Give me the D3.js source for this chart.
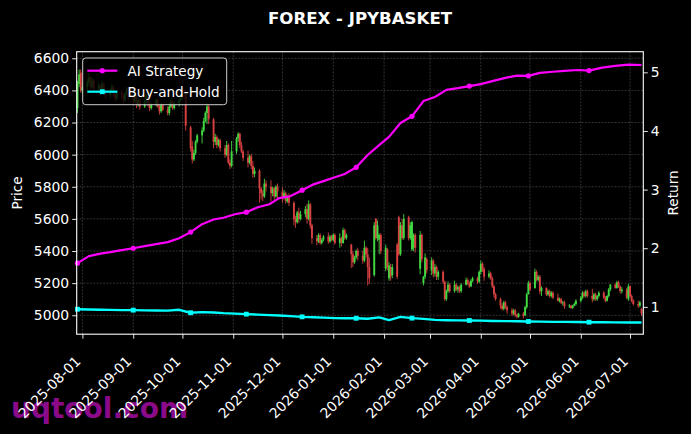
<!DOCTYPE html>
<html><head><meta charset="utf-8">
<script src="https://cdn.jsdelivr.net/npm/d3@7"></script>
<style>html,body{margin:0;padding:0;background:#000;} svg{display:block;}</style>
</head><body><svg id="c" width="691" height="434"></svg>
<script>
// ---------- DATA ----------
const chartTitle = "FOREX - JPYBASKET";
const firstTradingDay = "2025-07-29";
const lastTradingDay = "2026-07-08";
const opens = [
6290,6440,6510,6400,
6420,6450,6480,6420,6460,
6410,6430,6390,6440,6400,
6370,6400,6420,6380,6350,
6390,6370,6340,6380,6410,
6360,6330,6360,6310,6340,
6300,6330,6360,6320,6290,
6310,6340,6300,6270,6310,
6280,6260,6300,6330,6290,
6320,6340,6370,6390,6380,
6170,6050,5970,6010,6080,
6120,6150,6210,6260,6300,
6220,6080,6110,6060,6090,
6040,6000,6060,5950,5930,
6020,6100,6130,6060,6020,
5980,5950,5990,5930,5880,
5900,5790,5760,5740,5820,
5800,5760,5790,5740,5800,
5770,5730,5760,5710,5740,
5700,5600,5580,5640,5600,
5630,5660,5600,5690,5560,
5480,5460,5500,5450,5470,
5490,5460,5490,5470,5500,
5450,5480,5450,5530,5480,
5440,5380,5330,5360,5400,
5370,5340,5420,5380,5300,
5250,5600,5480,5470,5500,
5290,5410,5230,5300,5250,
5440,5610,5380,5560,5480,
5610,5480,5410,5420,5500,
5290,5500,5200,5240,5350,
5280,5340,5260,5300,5240,
5270,5210,5100,5150,5190,
5150,5190,5160,5175,5150,
5190,5220,5200,5180,5215,
5230,5210,5270,5320,5290,
5240,5260,5230,5180,5130,
5100,5060,5040,5080,5050,
5030,5010,5030,5000,4990,
5010,5000,5050,5130,5200,
5170,5270,5220,5240,5150,
5170,5130,5150,5120,5140,
5110,5090,5100,5075,5080,
5055,5060,5045,5060,5070,
5090,5110,5140,5120,5150,
5120,5100,5130,5100,5120,
5140,5110,5090,5120,5160,
5190,5170,5205,5180,5150,
5160,5100,5180,5120,5090,
5070,5060,5040];
const closes = [
6440,6500,6400,6420,
6450,6480,6420,6460,6410,
6430,6390,6440,6400,6370,
6400,6420,6380,6350,6390,
6370,6340,6380,6410,6360,
6330,6360,6310,6340,6300,
6330,6360,6320,6290,6310,
6340,6300,6270,6310,6280,
6260,6300,6330,6290,6320,
6340,6370,6390,6380,6180,
6040,5970,6010,6080,6120,
6150,6210,6260,6300,6220,
6080,6110,6060,6090,6040,
6000,6060,5950,5930,6020,
6100,6130,6060,6020,5980,
5950,5990,5930,5880,5900,
5790,5760,5740,5820,5800,
5760,5790,5740,5800,5770,
5730,5760,5710,5740,5700,
5600,5580,5640,5600,5630,
5660,5600,5690,5560,5480,
5460,5500,5450,5470,5490,
5460,5490,5470,5500,5450,
5480,5450,5530,5480,5500,
5380,5330,5360,5400,5370,
5340,5420,5380,5300,5230,
5560,5480,5560,5500,5400,
5420,5300,5310,5240,5300,
5240,5380,5560,5480,5600,
5480,5560,5580,5500,5420,
5500,5350,5240,5360,5280,
5340,5260,5300,5240,5270,
5210,5100,5150,5190,5150,
5190,5160,5175,5150,5190,
5220,5200,5180,5215,5230,
5210,5270,5320,5290,5240,
5260,5230,5180,5130,5100,
5060,5040,5080,5050,5030,
5010,5030,5000,4990,5010,
4995,5050,5130,5200,5160,
5270,5220,5240,5150,5170,
5130,5150,5120,5140,5110,
5090,5100,5075,5080,5055,
5060,5045,5060,5070,5090,
5110,5140,5120,5150,5120,
5100,5130,5100,5120,5140,
5110,5090,5120,5160,5190,
5170,5205,5180,5150,5160,
5110,5180,5120,5090,5070,
5060,5080,5010];
const highs = [
6460,6530,6530,6450,
6470,6510,6490,6480,6470,
6450,6440,6460,6450,6410,
6410,6440,6430,6390,6400,
6400,6380,6390,6420,6420,
6380,6380,6370,6350,6350,
6340,6380,6370,6330,6320,
6350,6350,6310,6320,6320,
6300,6320,6350,6340,6330,
6350,6380,6400,6410,6410,
6180,6085,6030,6090,6130,
6170,6230,6270,6320,6310,
6230,6130,6120,6100,6100,
6060,6085,6070,5970,6085,
6110,6140,6135,6080,6030,
6025,6000,6005,5960,5920,
5910,5800,5780,5850,5840,
5840,5800,5800,5810,5820,
5795,5780,5770,5750,5760,
5710,5620,5650,5670,5650,
5680,5695,5715,5700,5570,
5500,5510,5510,5480,5500,
5515,5500,5500,5510,5510,
5510,5490,5545,5540,5510,
5445,5400,5370,5410,5420,
5400,5465,5430,5420,5360,
5580,5605,5590,5510,5510,
5440,5420,5330,5320,5320,
5450,5620,5580,5600,5630,
5620,5580,5590,5510,5510,
5525,5510,5245,5385,5360,
5360,5350,5320,5310,5280,
5280,5215,5160,5210,5200,
5215,5200,5185,5185,5200,
5235,5230,5210,5225,5240,
5240,5280,5340,5330,5300,
5280,5270,5240,5190,5140,
5110,5075,5090,5090,5060,
5045,5040,5040,5010,5015,
5020,5060,5140,5215,5210,
5290,5280,5250,5250,5180,
5175,5160,5160,5150,5150,
5135,5110,5110,5090,5090,
5070,5065,5065,5080,5100,
5120,5150,5150,5160,5160,
5165,5140,5140,5125,5150,
5150,5120,5125,5170,5195,
5200,5215,5215,5185,5175,
5170,5195,5185,5130,5100,
5090,5090,5045];
const lows = [
6260,6420,6385,6380,
6400,6430,6400,6410,6390,
6390,6370,6380,6390,6350,
6350,6380,6360,6330,6340,
6350,6320,6330,6370,6340,
6310,6320,6290,6300,6280,
6290,6320,6300,6270,6280,
6300,6290,6250,6260,6270,
6245,6245,6290,6280,6280,
6300,6330,6360,6350,6150,
6020,5945,5960,6000,6070,
6070,6140,6200,6190,6190,
6040,6060,6040,6050,6020,
5980,5990,5940,5910,5920,
6005,6080,6040,6010,5960,
5920,5940,5910,5855,5860,
5700,5720,5710,5730,5770,
5710,5740,5720,5730,5730,
5700,5720,5695,5700,5680,
5560,5545,5570,5575,5590,
5610,5570,5590,5540,5445,
5435,5450,5440,5440,5460,
5445,5450,5460,5460,5440,
5420,5430,5445,5470,5470,
5295,5300,5320,5350,5340,
5320,5330,5360,5185,5195,
5240,5470,5460,5380,5380,
5275,5280,5215,5215,5230,
5225,5370,5370,5470,5470,
5465,5470,5400,5400,5390,
5255,5330,5185,5225,5260,
5250,5235,5240,5220,5220,
5195,5090,5090,5140,5140,
5140,5150,5140,5140,5140,
5185,5190,5170,5175,5205,
5195,5200,5255,5270,5215,
5230,5220,5170,5110,5090,
5040,5030,5030,5040,5010,
4995,5000,4990,4980,4985,
4980,4995,5040,5130,5150,
5165,5210,5210,5130,5120,
5120,5120,5110,5110,5100,
5085,5080,5070,5060,5040,
5045,5040,5040,5055,5060,
5080,5100,5110,5110,5110,
5080,5090,5090,5090,5110,
5100,5080,5085,5110,5150,
5165,5165,5170,5135,5135,
5100,5090,5110,5080,5060,
5045,5050,4995];

const returnDates = [
"2025-07-29","2025-08-05","2025-08-12","2025-08-18","2025-08-25",
"2025-09-01","2025-09-08","2025-09-15","2025-09-22","2025-09-29",
"2025-10-06","2025-10-13","2025-10-20","2025-10-26","2025-11-02",
"2025-11-09","2025-11-16","2025-11-23","2025-11-29","2025-12-06",
"2025-12-13","2025-12-20","2025-12-26","2026-01-02","2026-01-08",
"2026-01-15","2026-01-22","2026-01-29","2026-02-04","2026-02-11",
"2026-02-18","2026-02-25","2026-03-04","2026-03-11","2026-03-18",
"2026-03-25","2026-04-01","2026-04-08","2026-04-16","2026-04-23",
"2026-04-30","2026-05-07","2026-05-15","2026-05-22","2026-05-30",
"2026-06-06","2026-06-14","2026-06-22","2026-06-30","2026-07-08"];
const aiStrategy = [
1.746,1.865,1.908,1.933,1.968,
2.000,2.036,2.070,2.104,2.170,
2.275,2.410,2.490,2.520,2.580,
2.615,2.700,2.750,2.855,2.890,
2.990,3.090,3.145,3.210,3.265,
3.380,3.590,3.760,3.900,4.135,
4.250,4.510,4.580,4.700,4.730,
4.766,4.800,4.850,4.905,4.945,
4.940,4.990,5.010,5.025,5.040,
5.030,5.080,5.110,5.130,5.125];
const buyHold = [
0.960,0.955,0.950,0.948,0.945,
0.944,0.940,0.938,0.936,0.950,
0.900,0.910,0.905,0.893,0.885,
0.876,0.868,0.860,0.852,0.843,
0.830,0.824,0.816,0.808,0.807,
0.806,0.797,0.820,0.775,0.830,
0.808,0.795,0.778,0.773,0.769,
0.768,0.765,0.760,0.757,0.755,
0.751,0.748,0.745,0.744,0.742,
0.739,0.739,0.736,0.734,0.733];

const dateTicks = ["2025-08-01","2025-09-01","2025-10-01","2025-11-01","2025-12-01","2026-01-01",
  "2026-02-01","2026-03-01","2026-04-01","2026-05-01","2026-06-01","2026-07-01"];
const priceTicks = [5000,5200,5400,5600,5800,6000,6200,6400,6600];
const returnTicks = [1,2,3,4,5];
const seriesNames = ["AI Strategy","Buy-and-Hold"];
const markEvery = 5;

// ---------- LAYOUT ----------
const W = 691, H = 434;
const L = 76.7, R = 643.3, T = 51.7, B = 334.2;
const FONT = "DejaVu Sans, sans-serif";
const FS = 13.6, FT = 13.9;
const svg = d3.select("#c");
svg.append("rect").attr("width", W).attr("height", H).attr("fill", "#000");

const parse = d3.utcParse("%Y-%m-%d");
const x = d3.scaleUtc()
  .domain([new Date(Date.UTC(2025,6,28,12,30)), new Date(Date.UTC(2026,6,9,2,20))])
  .range([L, R]);
const yP = d3.scaleLinear().domain([4882, 6641]).range([B, T]);
const yR = d3.scaleLinear().domain([0.534, 5.352]).range([B, T]);

// watermark (behind)
svg.append("text").attr("x", 11).attr("y", 417.5)
  .attr("font-family", FONT).attr("font-weight", "bold").attr("font-size", 28)
  .attr("fill", "#8a0a8a").text("uqtool.com");

// grid
const grid = svg.append("g");
dateTicks.forEach(t => {
  grid.append("line").attr("x1", x(parse(t))).attr("x2", x(parse(t)))
    .attr("y1", T).attr("y2", B);
});
priceTicks.forEach(t => {
  grid.append("line").attr("x1", L).attr("x2", R).attr("y1", yP(t)).attr("y2", yP(t));
});
grid.selectAll("line").attr("stroke", "#6a6a6a").attr("stroke-width", 0.6)
  .attr("stroke-dasharray", "2,1.3").attr("opacity", 0.8);

// candles
const days = d3.utcDay.range(parse(firstTradingDay), d3.utcDay.offset(parse(lastTradingDay), 1))
  .filter(d => d.getUTCDay() !== 0 && d.getUTCDay() !== 6);
const candles = days.map((d, i) => ({d, o: opens[i], h: highs[i], l: lows[i], c: closes[i]}));
const cg = svg.append("g").attr("opacity", 0.85);
const bw = 1.9;
candles.forEach(k => {
  const col = k.c >= k.o ? "#4dff4d" : "#ff4d4d";
  const cx = x(k.d);
  cg.append("line").attr("x1", cx).attr("x2", cx).attr("y1", yP(k.h)).attr("y2", yP(k.l))
    .attr("stroke", col).attr("stroke-width", 0.9);
  const yt = yP(Math.max(k.o, k.c)), yb = yP(Math.min(k.o, k.c));
  cg.append("rect").attr("x", cx - bw/2).attr("y", yt).attr("width", bw)
    .attr("height", Math.max(0.8, yb - yt)).attr("fill", col);
});

// return lines
const pts = (arr) => arr.map((v, i) => ({d: parse(returnDates[i]), v}));
const line = d3.line().x(p => x(p.d)).y(p => yR(p.v));
const sA = pts(aiStrategy), sB = pts(buyHold);
svg.append("path").datum(sA).attr("d", line).attr("fill", "none")
  .attr("stroke", "#ff00ff").attr("stroke-width", 2.2).attr("stroke-linejoin", "round");
svg.selectAll(".mA").data(sA.filter((p, i) => i % markEvery === 0)).enter()
  .append("circle").attr("cx", p => x(p.d)).attr("cy", p => yR(p.v)).attr("r", 2.6).attr("fill", "#ff00ff");
svg.append("path").datum(sB).attr("d", line).attr("fill", "none")
  .attr("stroke", "#00ffff").attr("stroke-width", 2.4).attr("stroke-linejoin", "round");
svg.selectAll(".mB").data(sB.filter((p, i) => i % markEvery === 0)).enter()
  .append("rect").attr("x", p => x(p.d) - 2.4).attr("y", p => yR(p.v) - 2.4)
  .attr("width", 4.8).attr("height", 4.8).attr("fill", "#00ffff");

// spines
svg.append("rect").attr("x", L).attr("y", T).attr("width", R - L).attr("height", B - T)
  .attr("fill", "none").attr("stroke", "#fff").attr("stroke-width", 1.1);

// axes
const axX = d3.axisBottom(x).tickValues(dateTicks.map(parse)).tickFormat(d3.utcFormat("%Y-%m-%d"))
  .tickSize(4.5).tickPadding(3);
const gx = svg.append("g").attr("transform", `translate(0,${B})`).call(axX);
gx.select(".domain").remove();
gx.selectAll("text").attr("text-anchor", "end").attr("dy", null).attr("y", null)
  .attr("transform", "translate(-1.5,28) rotate(-45)");

const axL = d3.axisLeft(yP).tickValues(priceTicks).tickFormat(d3.format("d")).tickSize(4.5).tickPadding(3);
const gl = svg.append("g").attr("transform", `translate(${L},0)`).call(axL);
gl.select(".domain").remove();
const axR = d3.axisRight(yR).tickValues(returnTicks).tickFormat(d3.format("d")).tickSize(4.5).tickPadding(3);
const gr = svg.append("g").attr("transform", `translate(${R},0)`).call(axR);
gr.select(".domain").remove();
[gx, gl, gr].forEach(g => {
  g.selectAll("line").attr("stroke", "#fff").attr("stroke-width", 0.9);
  g.selectAll("text").attr("fill", "#fff").attr("font-family", FONT).attr("font-size", FT);
});

// axis labels
svg.append("text").attr("transform", `translate(22,${(T+B)/2}) rotate(-90)`)
  .attr("text-anchor", "middle").attr("font-family", FONT).attr("font-size", FS)
  .attr("fill", "#fff").text("Price");
svg.append("text").attr("transform", `translate(678,${(T+B)/2}) rotate(-90)`)
  .attr("text-anchor", "middle").attr("font-family", FONT).attr("font-size", FS)
  .attr("fill", "#fff").text("Return");

// title
svg.append("text").attr("x", (L + R)/2).attr("y", 23.5).attr("text-anchor", "middle")
  .attr("font-family", FONT).attr("font-weight", "bold").attr("font-size", 16.6)
  .attr("fill", "#fff").text(chartTitle);

// legend
const lg = svg.append("g");
lg.append("rect").attr("x", 82.7).attr("y", 58).attr("width", 144).attr("height", 46.7)
  .attr("rx", 3).attr("fill", "#000").attr("fill-opacity", 0.8)
  .attr("stroke", "#cccccc").attr("stroke-width", 1);
const legCols = ["#ff00ff", "#00ffff"];
seriesNames.forEach((n, i) => {
  const yy = 70.7 + i * 21;
  lg.append("line").attr("x1", 87.3).attr("x2", 117.3).attr("y1", yy).attr("y2", yy)
    .attr("stroke", legCols[i]).attr("stroke-width", 2.2);
  if (i === 0) lg.append("circle").attr("cx", 102.3).attr("cy", yy).attr("r", 2.6).attr("fill", legCols[i]);
  else lg.append("rect").attr("x", 99.9).attr("y", yy - 2.4).attr("width", 4.8).attr("height", 4.8).attr("fill", legCols[i]);
  lg.append("text").attr("x", 127.5).attr("y", yy + 4.9).attr("font-family", FONT)
    .attr("font-size", FS).attr("fill", "#fff").text(n);
});
</script></body></html>
